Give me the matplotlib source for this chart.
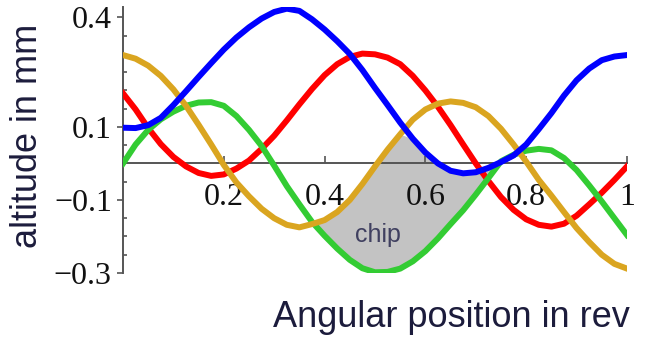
import numpy as np
import matplotlib
matplotlib.use("Agg")
import matplotlib.pyplot as plt

# angular position (rev), sampled every 0.025
x = np.linspace(0, 1, 41)

# altitudes in mm
blue = [0.098, 0.097, 0.105, 0.125, 0.160, 0.198, 0.237, 0.275, 0.312, 0.345,
        0.373, 0.397, 0.415, 0.424, 0.418, 0.395, 0.367, 0.335, 0.300, 0.256,
        0.207, 0.160, 0.112, 0.068, 0.030, 0.000, -0.020, -0.027, -0.024, -0.012,
        0.004, 0.022, 0.052, 0.094, 0.138, 0.186, 0.228, 0.260, 0.283, 0.293,
        0.297]
red = [0.192, 0.148, 0.097, 0.053, 0.018, -0.008, -0.026, -0.034, -0.030, -0.014,
       0.008, 0.040, 0.076, 0.118, 0.162, 0.204, 0.242, 0.272, 0.292, 0.301,
       0.299, 0.290, 0.272, 0.240, 0.200, 0.155, 0.105, 0.052, 0.000, -0.048,
       -0.092, -0.127, -0.153, -0.168, -0.173, -0.165, -0.143, -0.112, -0.080, -0.045,
       -0.008]
green = [0.000, 0.052, 0.092, 0.121, 0.142, 0.158, 0.167, 0.168, 0.158, 0.130,
         0.092, 0.048, -0.006, -0.062, -0.112, -0.160, -0.198, -0.233, -0.264, -0.287,
         -0.298, -0.297, -0.288, -0.268, -0.240, -0.205, -0.166, -0.128, -0.085, -0.040,
         0.006, 0.024, 0.035, 0.040, 0.036, 0.015, -0.018, -0.060, -0.104, -0.150,
         -0.196]
orange = [0.297, 0.287, 0.268, 0.240, 0.203, 0.158, 0.106, 0.052, -0.004, -0.052,
          -0.090, -0.124, -0.150, -0.168, -0.175, -0.166, -0.155, -0.133, -0.100, -0.056,
          -0.008, 0.038, 0.080, 0.120, 0.148, 0.164, 0.170, 0.166, 0.154, 0.130,
          0.095, 0.052, 0.005, -0.045, -0.088, -0.133, -0.177, -0.215, -0.250, -0.275,
          -0.288]

y_major = [-0.3, -0.1, 0.1, 0.4]
x_major = [0.2, 0.4, 0.6, 0.8, 1.0]
chip_window = (0.3, 0.78)

blue, red, green, orange = map(np.array, (blue, red, green, orange))

fig = plt.figure(figsize=(6.53, 3.43), dpi=100)
ax = fig.add_axes([123 / 653, 70 / 343, 504 / 653, 266.5 / 343])
ax.set_xlim(0, 1)
ax.set_ylim(-0.3, 0.43)

# chip: material between the green profile and the lower of orange/blue
top = np.minimum(orange, blue)
mask = (green < top) & (x > chip_window[0]) & (x < chip_window[1])
ax.fill_between(x, green, top, where=mask, interpolate=True,
                color="#c3c3c3", lw=0, zorder=1)
ax.text(0.505, -0.196, "chip", family="Liberation Sans", fontsize=18,
        color="#404060", ha="center", va="center", zorder=2)

lw = 4.3
ax.plot(x, red, color="#ff0000", lw=lw, zorder=3)
ax.plot(x, green, color="#33cc33", lw=lw, zorder=3)
ax.plot(x, orange, color="#daa520", lw=lw, zorder=3)
ax.plot(x, blue, color="#0000ff", lw=lw, zorder=3)

# axes crossing at the origin, Maple style
for s in ("top", "right"):
    ax.spines[s].set_visible(False)
ax.spines["bottom"].set_position(("data", 0))
ax.spines["left"].set_position(("data", 0))
for s in ("bottom", "left"):
    ax.spines[s].set_color("#555555")
    ax.spines[s].set_linewidth(1.4)
    ax.spines[s].set_zorder(2.5)

tick_font = dict(family="Liberation Serif", size=23)
ax.set_xticks(x_major)
ax.set_xticklabels(["0.2", "0.4", "0.6", "0.8", "1"], color="#111111", **tick_font)
ax.tick_params(axis="x", direction="in", length=5, width=1.2, color="#555555", pad=14)

ax.set_yticks(y_major)
ax.set_yticklabels([f"{v:g}".replace("-", "\u2212") for v in y_major],
                   color="#111111", **tick_font)
ax.set_yticks(np.arange(-0.3, 0.401, 0.05), minor=True)
ax.tick_params(axis="y", which="major", direction="out", length=4, width=1.2,
               color="#555555", pad=4)
ax.tick_params(axis="y", which="minor", direction="in", length=3, width=1.2,
               color="#555555")

fig.text(630 / 653, 16 / 343, "Angular position in rev", family="Liberation Sans",
         fontsize=26, color="#1c1c3c", ha="right", va="baseline")
fig.text(28 / 653, 1 - 136 / 343, "altitude in mm", family="Liberation Sans",
         fontsize=26, color="#1c1c3c", ha="center", va="center", rotation=90)

fig.savefig("out.png", dpi=100)
